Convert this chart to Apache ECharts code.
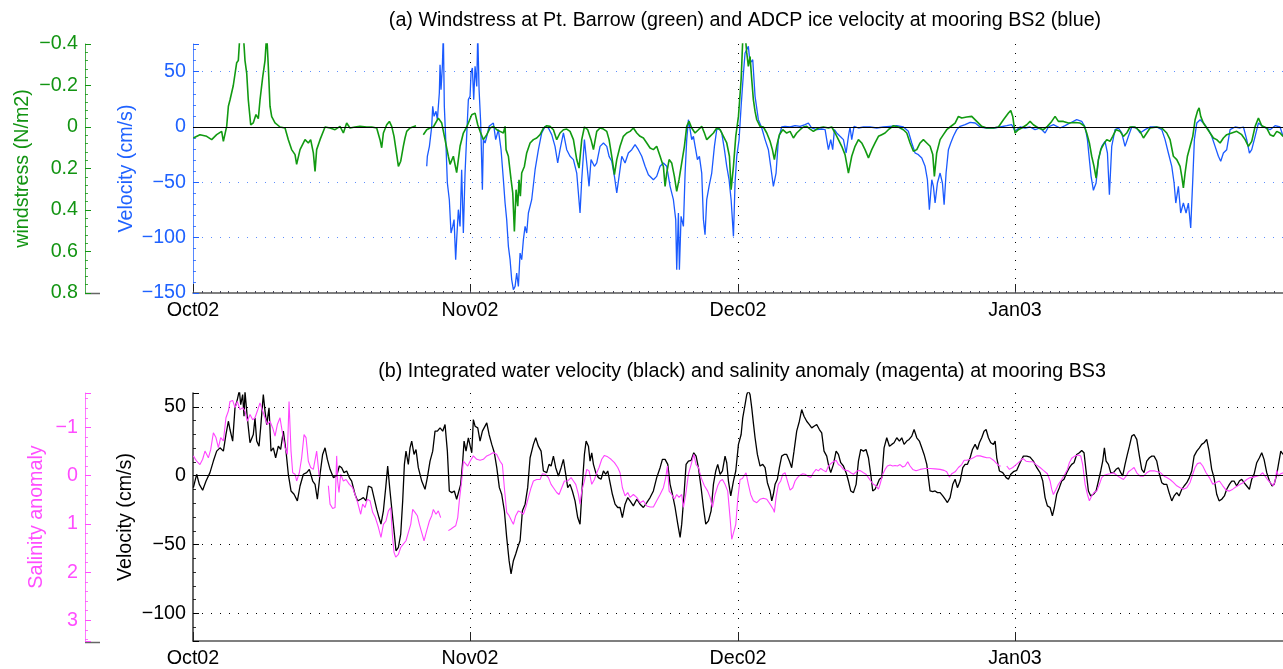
<!DOCTYPE html>
<html><head><meta charset="utf-8">
<script src="https://cdn.jsdelivr.net/npm/echarts@6/dist/echarts.min.js"></script>
<style>html,body{margin:0;padding:0;background:#fff}#c{width:1283px;height:669px}</style>
</head><body><div id="c"></div>
<script>
// ---- time axis: days since 1 Oct 2002 ----
const recordDays = 122;
const monthStartDays = [0, 31, 61, 92];
const monthLabels = ['Oct02', 'Nov02', 'Dec02', 'Jan03'];

// ---- (a) windstress at Pt. Barrow [day, N/m2] ----
const windStress = [[0.04,0.053],[0.78,0.037],[1.53,0.045],[2.09,0.061],[2.65,0.037],[3.21,0.021],[3.40,0.069],[3.77,-0.003],[3.96,-0.10],[4.14,-0.13],[4.51,-0.20],[4.89,-0.31],[5.07,-0.32],[5.26,-0.45],[5.63,-0.45],[5.82,-0.32],[6.01,-0.26],[6.19,-0.13],[6.46,-0.01],[6.75,-0.02],[7.05,-0.06],[7.31,-0.04],[7.50,-0.13],[7.80,-0.24],[8.06,-0.32],[8.25,-0.45],[8.43,-0.29],[8.62,-0.10],[8.81,-0.05],[9.18,-0.02],[9.74,0],[10.30,0.005],[10.67,0.061],[11.04,0.109],[11.42,0.133],[11.60,0.18],[11.98,0.109],[12.54,0.061],[12.91,0.077],[13.17,0.061],[13.47,0.125],[13.66,0.214],[13.84,0.109],[14.22,0.061],[14.78,0],[15.34,0.005],[15.90,0.013],[16.46,-0.003],[16.83,0.029],[17.20,-0.019],[17.57,0.005],[18.13,0],[18.69,-0.003],[19.44,0],[20.00,0],[20.56,0.005],[20.93,0.061],[21.12,0.10],[21.31,0.029],[21.68,-0.011],[21.98,-0.027],[22.24,-0.003],[22.50,0.045],[22.80,0.133],[22.99,0.19],[23.25,0.165],[23.54,0.093],[23.73,0.053],[23.92,0.021],[24.29,0.005],[24.96,-0.006],[25.4,null],[25.78,0.037],[26.16,0.013],[26.53,0.005],[26.90,0],[27.46,-0.043],[27.84,-0.019],[28.21,0.061],[28.58,0.141],[28.77,0.18],[29.14,0.141],[29.51,0.22],[29.70,0.157],[29.89,0.093],[30.26,0.029],[30.63,0],
[30.82,-0.019],[31.20,-0.059],[31.57,-0.067],[31.87,-0.011],[32.13,0.021],[32.50,0.061],[32.88,0.037],[33.25,0.005],[33.62,-0.003],[34.00,0.013],[34.37,0.021],[34.74,0.029],[34.93,-0.003],[35.04,0.109],[35.30,0.141],[35.60,0.254],[35.79,0.318],[35.97,0.503],[36.16,0.302],[36.35,0.382],[36.49,0.254],[36.64,0.334],[36.79,0.222],[37.09,0.19],[37.35,0.125],[37.73,0.077],[38.10,0.061],[38.47,0.053],[38.85,0.037],[39.22,0.005],[39.59,-0.006],[39.96,-0.003],[40.34,0.013],[40.71,0.061],[41.08,0.029],[41.46,0.013],[41.83,0.01],[42.20,0.021],[42.58,0.061],[42.95,0.157],[43.21,0.198],[43.51,0.061],[43.81,0],[44.18,0.013],[44.55,0.061],[44.82,0.109],[45.19,0.021],[45.56,0.005],[45.94,0.01],[46.31,0.021],[46.57,0.061],[46.87,0.141],[47.17,0.23],[47.43,0.157],[47.80,0.093],[48.17,0.045],[48.55,0.029],[48.92,0.021],[49.29,0.005],[49.67,0.029],[50.04,0.045],[50.41,0.053],[50.79,0.077],[51.16,0.101],[51.53,0.109],[51.90,0.093],[52.28,0.141],[52.65,0.19],[52.84,0.286],[53.02,0.222],[53.29,0.157],[53.58,0.173],[53.88,0.238],[54.14,0.31],[54.40,0.254],[54.70,0.173],[55.00,0.093],[55.26,-0.003],[55.52,-0.027],[55.82,0.005],[56.19,0.029],[56.57,0.013],[56.94,-0.003],[57.24,0.029],[57.50,0.061],[57.87,0.045],[58.25,0.029],[58.62,0.005],[59.00,0.013],[59.37,0.045],[59.74,0.077],[60.04,0.141],[60.23,0.302],[60.49,0.19],[60.75,0.045],[61.05,-0.051],[61.35,-0.228],
[61.53,-0.42],[61.79,-0.45],[61.98,-0.357],[62.16,-0.292],[62.35,-0.34],[62.54,-0.228],[62.72,-0.132],[62.91,-0.075],[63.10,-0.035],[63.47,-0.003],[63.84,0],[64.22,0.029],[64.59,0.069],[64.85,0.109],[65.07,0.157],[65.33,0.093],[65.63,0.037],[66.01,0.013],[66.45,0.029],[66.83,0.021],[67.20,0.053],[67.57,0.029],[67.95,0.013],[68.32,0],[68.69,-0.003],[69.07,0.01],[69.44,0.021],[70.00,0.005],[70.56,0],[71.12,0.005],[71.49,0],[71.87,0.029],[72.24,0.061],[72.61,0.093],[72.98,0.133],[73.36,0.222],[73.73,0.141],[74.10,0.093],[74.48,0.061],[74.85,0.077],[75.22,0.109],[75.60,0.149],[75.97,0.109],[76.34,0.077],[76.72,0.045],[77.09,0.037],[77.46,0.029],[77.83,0.013],[78.40,-0.006],[78.95,0],[79.51,0.013],[79.89,0.029],[80.26,0.077],[80.63,0.117],[81.01,0.109],[81.38,0.077],[81.75,0.061],[82.13,0.077],[82.50,0.093],[82.80,0.133],[82.98,0.238],[83.24,0.125],[83.62,0.061],[83.99,0.037],[84.36,0.013],[84.74,0],[85.30,-0.019],[85.67,-0.051],[86.04,-0.043],[86.60,-0.048],[87.16,-0.051],[87.72,-0.027],[88.28,-0.003],[88.84,0.005],[89.59,0.005],[90.15,0],[90.71,-0.035],[91.27,-0.067],[91.53,-0.08],
[91.75,-0.051],[92.01,0.029],[92.38,0.013],[92.76,0.005],[93.32,-0.011],[93.69,-0.027],[94.06,-0.011],[94.62,0.005],[95.18,0.013],[95.63,-0.003],[96.11,-0.027],[96.49,-0.051],[96.86,-0.027],[97.42,-0.027],[97.98,-0.019],[98.73,-0.022],[99.29,-0.019],[99.73,-0.006],[100.03,0.029],[100.33,0.077],[100.59,0.141],[100.85,0.19],[101.08,0.246],[101.34,0.157],[101.60,0.109],[101.90,0.085],[102.27,0.061],[102.64,0.069],[102.94,0.045],[103.32,0.013],[103.76,0.021],[104.14,0.045],[104.51,0.029],[104.88,0],[105.44,0],[106.00,0.021],[106.38,0.053],[106.75,0.029],[107.12,0.005],[107.87,0],[108.43,0.005],[108.99,0.029],[109.36,0.061],[109.73,0.141],[110.11,0.157],[110.48,0.19],[110.67,0.238],[110.85,0.294],[111.04,0.222],[111.30,0.141],[111.60,0.093],[111.90,0.045],[112.16,-0.035],[112.42,-0.075],[112.61,-0.092],[112.79,-0.051],[113.09,-0.019],[113.46,0.005],[113.84,0.029],[114.21,0.053],[114.58,0.061],[114.96,0.077],[115.33,0.053],[115.70,0.037],[116.26,0.029],[116.82,0.021],[117.38,0.037],[117.76,0.061],[118.13,0.093],[118.50,0.069],[118.88,-0.003],[119.25,-0.043],[119.62,-0.006],[120.18,0.005],[120.55,0.037],[120.93,0.045],[121.30,0.021],[121.67,0.029],[122.01,0.045]];

// ---- (a) ADCP ice velocity at BS2 [day, cm/s] ----
const iceVelocity = [[26.16,-35.5],[26.23,-26.5],[26.46,-17.5],[26.72,0.6],[26.83,18.7],[26.98,9.6],[27.20,14.2],[27.35,6.6],[27.57,30.7],[27.65,56.3],[27.76,33.7],[27.91,54.8],[28.02,85],[28.13,18.7],[28.32,-17.5],[28.47,-50.6],[28.69,-65.7],[28.88,-95.8],[29.07,-89.8],[29.22,-83.7],[29.40,-119.9],[29.51,-101.8],[29.70,-74.7],[29.89,-89.8],[30.07,-38.6],[30.26,-95.8],[30.45,-41.6],[30.63,-8.4],[30.82,24.7],[31.01,27.7],[31.12,48.8],[31.27,53.3],[31.42,24.7],[31.57,54.8],[31.76,36.7],[31.87,85],[32.02,33.7],[32.20,3.6],[32.39,-56.6],[32.50,-11.4],[32.69,-14.5],[32.88,-8.4],[33.14,0.6],[33.36,-0.9],[33.62,3.6],[33.88,-11.4],[34.18,-2.4],[34.48,-20.5],[34.74,-47.6],[34.93,-68.7],[35.11,-83.7],[35.30,-107.8],[35.49,-119.9],[35.67,-137.9],[35.86,-147],[36.05,-144],[36.23,-131.9],[36.42,-144],[36.61,-113.9],[36.79,-119.9],[36.98,-101.8],[37.17,-89.8],[37.35,-95.8],[37.54,-77.7],[37.91,-65.7],[38.29,-38.6],[38.66,-20.5],[39.03,-5.4],[39.41,0.6],[39.78,-0.9],[40.15,-6.9],[40.52,-17.5],[40.82,-32.5],[41.08,-20.5],[41.46,-5.4],[41.83,-20.5],[42.20,-26.5],[42.58,-29.5],[42.95,-41.6],[43.32,-77.7],[43.51,-47.6],[43.81,-11.4],[44.07,-32.5],[44.33,-53.6],[44.55,-29.5],[44.93,-35.5],[45.19,-32.5],[45.56,-17.5],[45.94,-14.5],[46.31,-17.5],[46.57,-26.5],[46.87,-31.0],[47.17,-44.6],[47.43,-59.6],[47.69,-44.6],[47.99,-26.5],[48.36,-32.5],[48.73,-23.5],[49.11,-20.5],[49.48,-16.0],[49.85,-20.5],[50.23,-26.5],[50.60,-35.5],[50.97,-43.1],[51.53,-47.6],[51.90,-44.6],[52.28,-35.5],[52.65,-32.5],[53.02,-35.5],[53.40,-53.6],[53.77,-65.7],[54.03,-83.7],[54.14,-128.9],[54.33,-77.7],[54.44,-128.9],[54.63,-80.7],[54.89,-89.8],[55.08,-41.6],[55.26,-11.4],[55.45,6.6],[55.64,-2.4],[55.82,-11.4],[56.01,-8.4],[56.20,-17.5],[56.46,-29.5],[56.68,-26.5],[56.94,-41.6],[57.13,-83.7],[57.31,-97.3],[57.50,-65.7],[57.76,-53.6],[58.06,-41.6],[58.36,-17.5],[58.62,-2.4],[58.88,-0.9],[59.18,-5.4],[59.48,-20.5],[59.74,-35.5],[60.00,-47.6],[60.23,-65.7],[60.49,-98.8],[60.67,-50.6],[60.86,-26.5],[61.12,-11.4],[61.35,18.7],[61.61,48.8],[61.79,66.9],
[61.98,66.9],[62.16,72.9],[62.35,57.8],[62.65,60.8],[62.91,27.7],[63.28,6.6],[63.66,-0.9],[64.03,-11.4],[64.40,-20.5],[64.66,-35.5],[64.96,-53.6],[65.26,-41.6],[65.52,-11.4],[65.89,0],[66.27,0.6],[66.83,0],[67.39,1.2],[67.95,0.6],[68.51,2.1],[68.88,3.6],[69.25,-0.9],[69.81,-2.4],[70.37,-1.8],[70.75,-2.4],[70.93,-11.4],[71.12,-20.5],[71.38,-11.4],[71.60,-20.5],[71.79,-2.4],[72.05,-5.4],[72.42,-8.4],[72.80,-11.4],[73.10,-23.5],[73.36,-8.4],[73.54,0],[73.73,-11.4],[73.99,0.6],[74.48,-0.9],[75.04,0],[75.78,0],[76.53,-0.9],[77.27,0],[78.02,0.6],[78.77,1.2],[79.51,0],[80.07,-3.9],[80.45,-14.5],[80.82,-23.5],[81.19,-25.0],[81.57,-28.0],[81.94,-35.5],[82.20,-47.6],[82.42,-74.7],[82.69,-47.6],[82.87,-53.6],[83.06,-68.7],[83.32,-50.6],[83.62,-41.6],[83.88,-50.6],[84.07,-70.2],[84.29,-41.6],[84.55,-20.5],[84.81,-14.5],[85.11,-8.4],[85.48,-2.4],[85.86,0.6],[86.42,2.1],[86.98,4.2],[87.54,3.6],[88.10,0],[88.84,-0.9],[89.59,-0.9],[90.33,0],[91.08,1.2],[91.64,2.1],
[92.01,-3.9],[92.57,0],[93.13,-0.9],[93.69,0],[94.25,-2.4],[94.81,-0.9],[95.37,-5.4],[95.74,0],[96.30,2.1],[97.05,-0.9],[97.61,1.2],[98.17,3.6],[98.91,6.6],[99.47,5.1],[99.85,0],[100.11,-11.4],[100.33,-29.5],[100.52,-44.6],[100.78,-57.2],[101.08,-50.6],[101.34,-29.5],[101.71,-17.5],[102.08,-13.0],[102.35,-23.5],[102.57,-61.1],[102.83,-17.5],[103.20,-2.4],[103.58,-0.9],[103.95,-5.4],[104.32,-17.5],[104.70,-8.4],[105.07,0],[105.63,-0.9],[106.00,-5.4],[106.56,-2.4],[107.12,0],[107.87,0],[108.43,-2.4],[108.80,-11.4],[109.17,-23.5],[109.55,-35.5],[109.81,-50.6],[110.00,-68.7],[110.29,-53.6],[110.55,-77.7],[110.85,-68.7],[111.15,-77.7],[111.41,-68.7],[111.67,-91.3],[111.90,-47.6],[112.08,-11.4],[112.35,3.6],[112.72,6.6],[113.09,3.6],[113.65,-2.4],[114.02,-8.4],[114.40,-17.5],[114.77,-26.5],[115.03,-31.0],[115.33,-23.5],[115.70,-20.5],[116.08,-2.4],[116.64,0],[117.20,-0.9],[117.57,0],[117.94,-11.4],[118.24,-23.5],[118.50,-20.5],[118.88,-8.4],[119.25,3.6],[119.81,0],[120.55,-2.4],[121.11,1.2],[121.67,0],[122.01,-8.4]];

// ---- (b) integrated water velocity at BS3 [day, cm/s] ----
const waterVelocity = [[0.04,-8.7],[0.41,1],[0.71,-6.3],[1.08,-10.6],[1.46,-3.9],[1.90,2.2],[2.28,10.6],[2.65,17.8],[3.02,20.2],[3.40,17.8],[3.69,29.9],[3.96,39.5],[4.14,33.5],[4.44,25.1],[4.70,49.2],[4.96,55.2],[5.19,62],[5.34,51.6],[5.56,58.8],[5.71,43.1],[5.82,61],[6.08,41.9],[6.38,23.9],[6.75,29.9],[6.94,41.9],[7.13,25.1],[7.39,21.4],[7.57,34.7],[7.87,58.8],[8.06,46.8],[8.25,37.1],[8.51,49.2],[8.73,17.8],[8.99,20.2],[9.25,13],[9.55,21.4],[9.81,19],[10.11,32.3],[10.41,17.8],[10.67,1],[10.97,-11.1],[11.31,-13.5],[11.68,-18.3],[11.98,-7.5],[12.35,1],[12.72,2.2],[13.02,4.6],[13.40,-3.9],[13.66,-6.3],[13.92,-17.1],[14.22,1],[14.51,15.4],[14.78,20.2],[15.04,11.8],[15.34,4.6],[15.71,-1.4],[16.08,-0.2],[16.38,7],[16.64,5.8],[16.90,2.2],[17.20,3.4],[17.50,-1.4],[17.76,-3.9],[18.13,-13.5],[18.43,-18.3],[18.77,-17.1],[19.07,-15.9],[19.37,-18.3],[19.63,-7.5],[20.00,-8.7],[20.26,-15.9],[20.56,-24.3],[20.82,-30.4],[21.04,-35.2],[21.31,-25.5],[21.57,-8.7],[21.79,7],[22.05,-11.1],[22.31,-28],[22.54,-42.4],[22.72,-54.5],[22.99,-52],[23.25,-42.4],[23.47,-18.3],[23.66,8.2],[23.84,17.8],[24.10,8.2],[24.29,20.2],[24.48,25.1],[24.74,15.4],[24.96,19],[25.22,5.8],[25.60,-3.9],[25.97,-9.9],[26.23,-1.4],[26.53,10.6],[26.83,17.8],[27.09,32.3],[27.35,32.3],[27.65,34.7],[27.95,32.3],[28.21,37.1],[28.47,17.8],[28.69,-11.1],[28.96,-12.3],[29.25,-11.1],[29.51,-17.1],[29.70,-15.9],[29.96,-6.3],[30.19,10.6],[30.34,25.1],[30.56,17.8],
[30.82,27.5],[31.01,28.7],[31.20,16.6],[31.38,40.7],[31.57,35.9],[31.87,34.7],[32.13,25.1],[32.39,32.3],[32.61,33.5],[32.88,38.3],[33.14,29.9],[33.44,22.7],[33.73,16.6],[34.00,5.8],[34.29,-8.7],[34.55,-13.5],[34.85,-25.5],[35.11,-44.8],[35.38,-61.7],[35.60,-71.3],[35.86,-61.7],[36.12,-56.9],[36.35,-52],[36.61,-47.2],[36.87,-25.5],[37.17,-20.7],[37.46,-8.7],[37.73,13],[38.10,22.7],[38.36,27.5],[38.66,21.4],[38.96,17.8],[39.22,3.4],[39.59,2.2],[39.85,8.2],[40.08,7],[40.34,14.2],[40.60,5.8],[40.90,-0.2],[41.20,5.8],[41.46,11.8],[41.72,1],[41.94,-8.7],[42.20,-6.3],[42.46,-11.1],[42.76,-18.3],[43.06,-30.4],[43.32,-35.2],[43.58,-6.3],[43.81,15.4],[44.00,25.1],[44.26,21.4],[44.44,10.6],[44.63,16.6],[44.82,8.2],[45.08,2.2],[45.38,-1.4],[45.67,-2.6],[45.94,3.4],[46.20,1],[46.42,3.4],[46.68,-5.1],[46.94,-13.5],[47.24,-20.7],[47.54,-23.1],[47.80,-23.1],[48.06,-30.4],[48.36,-20.7],[48.66,-15.9],[48.92,-18.3],[49.29,-21.9],[49.67,-17.1],[50.04,-20.7],[50.41,-23.1],[50.79,-19.5],[51.16,-15.9],[51.53,-11.1],[51.90,-1.4],[52.28,5.8],[52.54,11.8],[52.84,11.8],[53.14,8.2],[53.40,-6.3],[53.66,-13.5],[53.96,-23.1],[54.26,-35.2],[54.52,-44.8],[54.70,-35.2],[54.96,-13.5],[55.19,8.2],[55.45,10.6],[55.75,11.1],[56.05,16.6],[56.31,14.2],[56.57,5.8],[56.87,-8.7],[57.13,-23.1],[57.39,-35.2],[57.69,-32.8],[57.99,-25.5],[58.25,-6.3],[58.51,3.4],[58.73,8.2],[59.00,1],[59.26,3.4],[59.55,14.2],[59.74,9.4],[59.93,-3.9],[60.19,-14.7],[60.49,-3.9],[60.75,3.4],[61.05,22.7],[61.35,29.9],[61.53,41.9],
[61.79,51.6],[61.98,58.8],[62.16,62],[62.35,58.8],[62.54,49.2],[62.72,38.3],[62.91,27.5],[63.17,15.4],[63.47,7],[63.77,8.2],[64.03,5.8],[64.29,-5.1],[64.59,-11.1],[64.78,-18.3],[64.96,-13.5],[65.15,-6.3],[65.41,-2.6],[65.63,5.8],[65.89,14.2],[66.16,15.4],[66.45,15.4],[66.75,10.6],[67.01,5.8],[67.27,17.8],[67.57,32.3],[67.87,39.5],[68.13,48],[68.39,43.1],[68.69,39.5],[68.99,37.1],[69.25,34.7],[69.51,35.9],[69.81,37.1],[70.11,33.5],[70.37,31.1],[70.63,17.8],[70.93,14.2],[71.16,7],[71.38,2.2],[71.68,8.2],[71.98,17.8],[72.24,15.4],[72.50,9.4],[72.80,7],[73.10,2.2],[73.36,-3.9],[73.62,-11.1],[73.92,-12.3],[74.22,-6.3],[74.48,10.6],[74.74,19],[75.04,17.8],[75.33,19],[75.60,13],[75.86,1],[76.08,-11.1],[76.34,-9.9],[76.60,-6.3],[76.83,-2.6],[77.09,-1.4],[77.35,20.2],[77.65,27.5],[77.95,21.4],[78.21,22.7],[78.47,23.9],[78.77,27.5],[79.07,25.1],[79.33,27.5],[79.59,22.7],[79.89,25.1],[80.15,26.3],[80.45,28.7],[80.71,33.5],[81.01,27.5],[81.30,25.1],[81.57,20.2],[81.83,15.4],[82.13,8.2],[82.31,-1.4],[82.50,-11.1],[82.80,-11.6],[83.06,-11.1],[83.32,-12.3],[83.62,-12.3],[83.92,-14.7],[84.18,-17.1],[84.44,-19.5],[84.74,-15.9],[85.04,-6.3],[85.30,-2.6],[85.56,-8.7],[85.86,-3.9],[86.16,5.8],[86.42,8.2],[86.68,8.2],[86.98,13],[87.24,19],[87.54,22.7],[87.80,19],[88.02,23.9],[88.28,27.5],[88.54,32.3],[88.77,33.5],[89.03,27.5],[89.29,23.9],[89.59,22.7],[89.78,25.1],[89.96,13],[90.26,3.4],[90.63,2.2],[91.01,-1.4],[91.27,-2.6],[91.53,1],[91.83,2.9],
[92.20,3.9],[92.57,9.4],[92.94,14.2],[93.32,14.2],[93.69,13.5],[94.06,10.6],[94.44,5.8],[94.81,2.2],[95.11,-3.9],[95.37,-15.9],[95.63,-21.9],[95.93,-23.1],[96.19,-29.2],[96.41,-23.1],[96.67,-13.5],[96.97,-8.7],[97.23,-3.9],[97.49,-2.6],[97.79,2.2],[98.09,5.8],[98.35,8.2],[98.61,9.4],[98.91,15.4],[99.21,16.6],[99.47,18.3],[99.73,16.6],[99.96,3.4],[100.22,-11.1],[100.48,-14.7],[100.78,-13.5],[101.08,-11.1],[101.34,-3.9],[101.60,3.4],[101.82,10.6],[102.01,20.2],[102.20,10.6],[102.46,8.2],[102.72,2.2],[103.02,2.2],[103.32,4.6],[103.58,5.8],[103.84,2.2],[104.06,-0.2],[104.32,8.2],[104.58,15.4],[104.81,21.4],[105.07,28.7],[105.33,29.9],[105.63,26.3],[105.93,14.2],[106.19,4.6],[106.45,2.2],[106.75,10.6],[107.05,13],[107.31,14.2],[107.57,14.2],[107.87,10.6],[108.17,1],[108.43,-5.1],[108.69,-6.3],[108.99,-6.3],[109.25,-12.3],[109.55,-18.3],[109.81,-14.7],[110.11,-12.3],[110.37,-14.7],[110.67,-9.9],[110.93,-7.5],[111.23,-5.1],[111.52,-1.4],[111.79,3.4],[112.05,14.2],[112.35,17.8],[112.64,20.2],[112.90,22.7],[113.17,23.9],[113.46,26.3],[113.73,17.8],[114.02,4.6],[114.28,-1.4],[114.58,-13.5],[114.85,-18.3],[115.14,-17.1],[115.44,-14.7],[115.70,-9.9],[116.00,-6.3],[116.26,-3.9],[116.52,-3.9],[116.82,-7.5],[117.12,-3.9],[117.38,-2.6],[117.64,-5.1],[117.94,-7.5],[118.24,-9.9],[118.50,-2.6],[118.76,1],[119.06,9.4],[119.36,13],[119.62,16.6],[119.88,11.8],[120.18,2.2],[120.48,-3.9],[120.78,-7.5],[121.01,-6.3],[121.30,1],[121.49,8.2],[121.75,17.8],[122.01,15.4]];

// ---- (b) salinity anomaly at BS3 [day, psu] ----
const salinityAnomaly = [[0.04,-0.41],[0.41,-0.30],[0.78,-0.23],[1.08,-0.34],[1.34,-0.51],[1.72,-0.37],[1.98,-0.54],[2.28,-0.89],[2.57,-0.79],[2.84,-0.58],[3.10,-0.79],[3.40,-0.72],[3.69,-1.20],[3.96,-1.34],[4.14,-1.54],[4.44,-1.56],[4.70,-1.41],[4.96,-1.54],[5.26,-1.37],[5.56,-1.41],[5.82,-1.34],[6.08,-1.13],[6.38,-1.27],[6.68,-1.16],[6.94,-1.20],[7.20,-1.34],[7.50,-1.51],[7.80,-1.34],[8.06,-1.20],[8.32,-1.06],[8.62,-1.13],[8.92,-0.99],[9.18,-0.82],[9.44,-1.06],[9.74,-1.20],[10.04,-0.85],[10.30,-0.58],[10.56,-0.44],[10.75,-1.54],[10.86,-1.58],[10.97,-0.51],[11.16,-0.06],[11.42,-0.03],[11.60,0.11],[11.90,-0.06],[12.16,-0.37],[12.43,-0.85],[12.65,-0.79],[12.91,-0.30],[13.17,-0.17],[13.47,-0.13],[13.66,-0.17],[13.84,-0.51],[14.14,0.03],[14.6,null],[15.15,0.21],[15.34,0.59],[15.63,0.68],[15.90,0.66],[16.08,-0.41],[16.19,0.11],[16.34,0.35],[16.53,-0.03],[16.83,0.11],[17.13,0.08],[17.50,0.18],[17.87,0.25],[18.13,0.39],[18.43,0.56],[18.77,0.80],[18.99,0.59],[19.25,0.66],[19.51,0.49],[19.81,0.52],[20.11,0.76],[20.41,0.87],[20.75,1.07],[21.04,1.28],[21.31,1.01],[21.60,0.94],[21.87,0.73],[22.13,0.66],[22.31,1.21],[22.50,1.59],[22.69,1.69],[22.99,1.63],[23.25,1.49],[23.54,1.42],[23.84,1.35],[24.10,1.18],[24.37,1.01],[24.59,0.70],[24.85,0.76],[25.11,0.83],[25.34,1.01],[25.60,1.18],[25.86,1.35],[26.16,1.14],[26.46,0.94],[26.72,0.83],[26.90,0.70],[27.20,0.80],[27.46,0.73],[27.72,0.87],[28.1,null],[28.58,1.14],[28.84,1.11],[29.14,1.07],[29.40,1.04],[29.63,0.87],[29.81,0.52],[30.07,0.11],[30.26,-0.30],[30.45,-0.32],
[30.75,-0.20],[31.01,-0.30],[31.38,-0.41],[31.76,-0.34],[32.13,-0.32],[32.50,-0.34],[32.88,-0.41],[33.25,-0.44],[33.62,-0.48],[34.00,-0.44],[34.37,-0.30],[34.63,-0.23],[34.85,0.25],[35.11,0.76],[35.38,0.83],[35.67,0.94],[35.86,1.01],[36.12,0.83],[36.42,0.73],[36.72,0.76],[36.98,0.80],[37.24,0.66],[37.54,0.45],[37.84,0.25],[38.10,0.11],[38.47,0.08],[38.85,0.08],[39.11,-0.04],[39.41,-0.03],[39.78,0.04],[40.08,0.18],[40.34,0.25],[40.71,0.35],[40.97,0.39],[41.27,0.25],[41.57,0.11],[41.94,0.11],[42.32,0.04],[42.58,0.11],[42.84,0.18],[43.14,0.39],[43.32,0.59],[43.51,0.32],[43.81,0.11],[44.07,-0.13],[44.33,-0.10],[44.63,0.18],[44.93,0.08],[45.19,-0.06],[45.45,-0.17],[45.75,-0.34],[46.05,-0.42],[46.42,-0.39],[46.79,-0.34],[47.17,-0.27],[47.54,-0.17],[47.80,-0.06],[48.06,0.25],[48.36,0.42],[48.66,0.35],[48.92,0.45],[49.29,0.39],[49.67,0.45],[50.04,0.56],[50.41,0.52],[50.79,0.63],[51.16,0.65],[51.53,0.65],[51.90,0.52],[52.28,0.39],[52.65,0.25],[52.91,0.04],[53.10,-0.20],[53.29,0.32],[53.58,0.39],[53.88,0.49],[54.14,0.39],[54.40,0.45],[54.70,0.39],[54.89,0.66],[55.15,0.39],[55.45,-0.03],[55.75,-0.23],[56.05,-0.44],[56.31,-0.23],[56.57,-0.17],[56.87,0.04],[57.24,0.21],[57.61,0.32],[57.88,0.45],[58.14,0.66],[58.43,0.39],[58.73,0.21],[59.00,0.11],[59.26,0.08],[59.55,0.18],[59.85,0.32],[60.11,0.87],[60.30,1.32],[60.52,1.28],[60.75,1.01],[60.97,0.49],[61.23,0.08],[61.49,0.06],
[61.90,-0.06],[62.16,0.18],[62.42,0.39],[62.72,0.52],[63.10,0.56],[63.47,0.49],[63.84,0.47],[64.22,0.49],[64.59,0.59],[64.96,0.70],[65.07,0.76],[65.26,0.45],[65.52,0.18],[65.78,0.11],[66.01,-0.03],[66.27,-0.06],[66.53,0.11],[66.83,0.30],[67.13,0.25],[67.39,0.11],[67.65,0.04],[67.95,-0.01],[68.25,-0.04],[68.51,-0.03],[68.80,0.01],[69.14,0.04],[69.44,-0.06],[69.74,-0.13],[70.00,-0.10],[70.26,-0.15],[70.56,-0.11],[70.86,-0.08],[71.12,-0.20],[71.38,-0.25],[71.68,-0.29],[71.98,-0.32],[72.24,-0.23],[72.50,-0.20],[72.80,-0.13],[73.10,-0.11],[73.36,-0.10],[73.62,-0.06],[73.92,-0.03],[74.22,-0.08],[74.48,-0.11],[74.74,-0.10],[75.04,-0.06],[75.33,-0.03],[75.60,0.04],[75.86,0.11],[76.16,0.18],[76.45,0.21],[76.72,0.28],[76.90,0.18],[77.20,-0.03],[77.46,-0.13],[77.72,-0.20],[78.02,-0.22],[78.32,-0.20],[78.58,-0.21],[78.84,-0.20],[79.14,-0.23],[79.44,-0.18],[79.70,-0.20],[80.00,-0.29],[80.26,-0.20],[80.56,-0.13],[80.93,-0.10],[81.38,-0.13],[81.94,-0.15],[82.50,-0.15],[83.06,-0.14],[83.62,-0.13],[84.07,-0.11],[84.36,-0.08],[84.66,0.03],[84.92,-0.04],[85.30,-0.08],[85.67,-0.17],[86.04,-0.23],[86.31,-0.32],[86.60,-0.32],[86.98,-0.34],[87.35,-0.37],[87.72,-0.41],[88.10,-0.41],[88.47,-0.39],[88.84,-0.37],[89.22,-0.37],[89.59,-0.32],[89.96,-0.25],[90.26,-0.20],[90.41,-0.20],[90.7,null],[91.08,-0.20],[91.38,-0.13],[91.75,-0.17],[92.13,-0.23],
[92.57,-0.30],[92.87,-0.36],[93.24,-0.30],[93.61,-0.29],[93.99,-0.29],[94.36,-0.23],[94.81,-0.17],[95.18,-0.11],[95.63,-0.04],[95.93,0.11],[96.11,0.28],[96.30,0.39],[96.60,0.28],[96.86,0.18],[97.23,0.08],[97.61,-0.04],[97.87,-0.13],[98.09,-0.27],[98.35,-0.36],[98.73,-0.41],[99.10,-0.43],[99.36,-0.41],[99.58,-0.23],[99.85,0.18],[100.11,0.39],[100.33,0.52],[100.59,0.42],[100.85,0.35],[101.15,0.32],[101.45,0.18],[101.71,0.04],[102.01,-0.01],[102.35,-0.03],[102.64,-0.04],[103.02,-0.06],[103.39,-0.01],[103.76,0.04],[104.14,0.08],[104.44,0.01],[104.70,-0.08],[105.07,-0.13],[105.33,-0.17],[105.63,-0.06],[106.00,0.01],[106.38,0.01],[106.75,-0.06],[107.12,-0.10],[107.57,-0.10],[107.94,-0.08],[108.31,-0.06],[108.69,0.01],[108.99,0.04],[109.36,0.08],[109.73,0.14],[110.11,0.21],[110.48,0.25],[110.85,0.28],[111.23,0.25],[111.60,0.14],[111.90,-0.03],[112.16,-0.17],[112.42,-0.25],[112.72,-0.27],[113.02,-0.20],[113.39,-0.06],[113.76,0.04],[114.14,0.18],[114.51,0.14],[114.88,0.11],[115.26,0.21],[115.63,0.30],[116.00,0.32],[116.38,0.28],[116.75,0.23],[117.20,0.18],[117.57,0.14],[117.94,0.08],[118.32,0.04],[118.69,0.03],[119.06,0.01],[119.43,-0.01],[119.73,-0.06],[119.99,0.01],[120.26,0.08],[120.55,0.14],[120.93,0.21],[121.11,0.11],[121.30,-0.11],[121.49,0.01],[121.75,-0.04],[122.01,-0.06]];

// ---- titles ----
const titleA = '(a) Windstress at Pt. Barrow (green) and ADCP ice velocity at mooring BS2 (blue)';
const titleB = '(b) Integrated water velocity (black) and salinity anomaly (magenta) at mooring BS3';

// ---------------------------------------------------------------
const FONT = '"Liberation Sans", Arial, Helvetica, sans-serif';
const FS = 19.7;
const C_BLUE = '#1f62ff', C_BLUE_LINE = '#1a5aff', C_GREEN = '#129412', C_GREEN_LINE = '#119a11';
const C_MAG = '#ff4dff', C_MAG_LINE = '#ff44ff';
const minus = s => String(s).replace('-', '\u2212');
const dayCats = Array.from({length: recordDays + 1}, (_, i) => String(i));
const isMonth = i => monthStartDays.indexOf(i) >= 0;
const monthFmt = (v) => { const k = monthStartDays.indexOf(Number(v)); return k >= 0 ? monthLabels[k] : ''; };

function monthAxis(gridIndex, withGrid) {
  return {
    type: 'category', gridIndex, data: dayCats, boundaryGap: false, position: 'bottom',
    axisLine: {show: true, onZero: false, lineStyle: {color: '#555', width: 1.5}},
    axisTick: {show: true, inside: true, length: 9, interval: (i) => isMonth(i), lineStyle: {color: '#222', width: 1}},
    axisLabel: {show: true, interval: (i) => isMonth(i), formatter: monthFmt, color: '#000', fontSize: FS, fontFamily: FONT, margin: 8},
    splitLine: {show: withGrid, interval: (i) => isMonth(i) && i > 0, lineStyle: {color: '#000', type: [1, 8], width: 1}}
  };
}
function dataAxis(gridIndex) {
  return {type: 'value', gridIndex, min: 0, max: recordDays, show: false};
}
function leftAxis(o) {
  return Object.assign({
    type: 'value', position: 'left',
    axisLine: {show: true, onZero: false, lineStyle: {color: o.color, width: 1, opacity: 0.75}},
    axisTick: {show: true, inside: true, length: 6, lineStyle: {color: o.color}},
    minorTick: {show: true, splitNumber: 5, length: 3, lineStyle: {color: o.color, opacity: 0.8}},
    axisLabel: {color: o.color, fontSize: FS, fontFamily: FONT, margin: 7, formatter: o.fmt},
    nameLocation: 'middle', nameMoveOverlap: false,
    nameTextStyle: {color: o.color, fontSize: FS, fontFamily: FONT},
    splitLine: {show: false}
  }, o.extra);
}
const zeroLine = {
  silent: true, symbol: ['none', 'none'], label: {show: false}, animation: false,
  lineStyle: {color: '#000', width: 1.2, type: 'solid'}, data: [{yAxis: 0}]
};

const option = {
  animation: false,
  backgroundColor: '#fff',
  textStyle: {fontFamily: FONT},
  grid: [
    {left: 193, top: 44, width: 1090, height: 249, containLabel: false},
    {left: 193, top: 393, width: 1090, height: 249, containLabel: false}
  ],
  xAxis: [dataAxis(0), monthAxis(0, true),
    {type: 'category', gridIndex: 0, data: dayCats, boundaryGap: false, position: 'bottom',
     axisLine: {show: false, onZero: false}, axisLabel: {show: false}, splitLine: {show: false},
     axisTick: {show: true, inside: true, length: 2, interval: 0, lineStyle: {color: '#445'}}},
    dataAxis(1), monthAxis(1, true)],
  yAxis: [
    leftAxis({color: C_BLUE, fmt: v => (v % 50 === 0 ? minus(v) : ''), extra: {
      gridIndex: 0, min: -150, max: 75, interval: 50, name: 'Velocity (cm/s)', nameGap: 56,
      splitLine: {show: true, showMinLine: false, showMaxLine: false, lineStyle: {color: '#5d8dff', type: [1, 8], width: 1}}}}),
    leftAxis({color: C_GREEN, fmt: v => minus(Math.round(v * 100) / 100), extra: {
      gridIndex: 0, offset: 108, inverse: true, min: -0.4, max: 0.8, interval: 0.2,
      name: 'windstress (N/m2)', nameGap: 52}}),
    leftAxis({color: '#000', fmt: v => (Math.abs(v % 50) < 1e-9 ? minus(v) : ''), extra: {
      gridIndex: 1, min: -120, max: 60, splitNumber: 4, name: 'Velocity (cm/s)', nameGap: 57,
      axisLine: {show: true, onZero: false, lineStyle: {color: '#333', width: 1.5}},
      splitLine: {show: true, showMinLine: false, showMaxLine: false, lineStyle: {color: '#000', type: [1, 8], width: 1}}}}),
    leftAxis({color: C_MAG, fmt: v => (Math.abs(v - Math.round(v)) < 1e-6 ? minus(Math.round(v)) : ''), extra: {
      gridIndex: 1, offset: 108, inverse: true, min: -60 / 35, max: 120 / 35, splitNumber: 5,
      name: 'Salinity anomaly', nameGap: 38}})
  ],
  series: [
    {name: 'ice velocity', type: 'line', xAxisIndex: 0, yAxisIndex: 0, data: iceVelocity, showSymbol: false,
     connectNulls: false, lineStyle: {color: C_BLUE_LINE, width: 1.3}, itemStyle: {color: C_BLUE_LINE}, z: 3, markLine: zeroLine},
    {name: 'windstress', type: 'line', xAxisIndex: 0, yAxisIndex: 1, data: windStress, showSymbol: false,
     connectNulls: false, lineStyle: {color: C_GREEN_LINE, width: 1.6}, itemStyle: {color: C_GREEN_LINE}, z: 4},
    {name: 'water velocity', type: 'line', xAxisIndex: 3, yAxisIndex: 2, data: waterVelocity, showSymbol: false,
     connectNulls: false, lineStyle: {color: '#000', width: 1.3}, itemStyle: {color: '#000'}, z: 3, markLine: zeroLine},
    {name: 'salinity', type: 'line', xAxisIndex: 3, yAxisIndex: 3, data: salinityAnomaly, showSymbol: false,
     connectNulls: false, lineStyle: {color: C_MAG_LINE, width: 1.1}, itemStyle: {color: C_MAG_LINE}, z: 4}
  ],
  graphic: [
    {type: 'text', x: 745, y: 21, style: {text: titleA, fill: '#000', fontSize: FS, fontFamily: FONT, align: 'center', verticalAlign: 'middle'}},
    {type: 'text', x: 742, y: 372, style: {text: titleB, fill: '#000', fontSize: FS, fontFamily: FONT, align: 'center', verticalAlign: 'middle'}},
    {type: 'line', shape: {x1: 85, y1: 293.5, x2: 100, y2: 293.5}, style: {stroke: '#666', lineWidth: 1.5}},
    {type: 'line', shape: {x1: 85, y1: 642.5, x2: 100, y2: 642.5}, style: {stroke: '#666', lineWidth: 1.5}}
  ]
};

const chart = echarts.init(document.getElementById('c'), null, {renderer: 'canvas'});
chart.setOption(option);
</script>
</body></html>
